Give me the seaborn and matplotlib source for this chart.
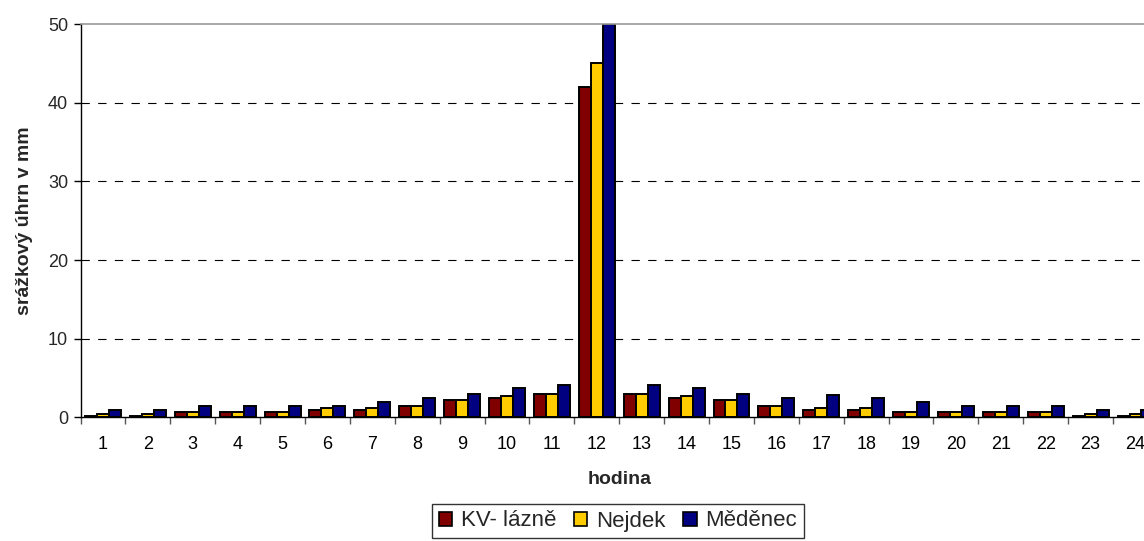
import matplotlib
matplotlib.use("Agg")
import matplotlib.pyplot as plt
import seaborn as sns
import pandas as pd
import numpy as np
from matplotlib.ticker import FixedLocator, NullFormatter
from matplotlib.patches import Patch

hours = [str(h) for h in range(1, 25)]
kv_lazne = [0.2, 0.2, 0.75, 0.75, 0.75, 1.0, 1.0, 1.5, 2.25, 2.5, 3.0, 42.0,
            3.0, 2.5, 2.25, 1.5, 1.0, 1.0, 0.75, 0.75, 0.75, 0.75, 0.2, 0.2]
nejdek = [0.5, 0.5, 0.75, 0.75, 0.75, 1.2, 1.2, 1.5, 2.25, 2.75, 3.0, 45.0,
          3.0, 2.75, 2.25, 1.5, 1.2, 1.2, 0.75, 0.75, 0.75, 0.75, 0.5, 0.5]
medenec = [1.0, 1.0, 1.5, 1.5, 1.5, 1.5, 2.0, 2.5, 3.0, 3.7, 4.15, 50.0,
           4.15, 3.7, 3.0, 2.5, 2.9, 2.5, 2.0, 1.5, 1.5, 1.5, 1.0, 1.0]
series_names = ["KV- lázně", "Nejdek", "Měděnec"]
colors = ["#800000", "#FFCC00", "#000080"]

df = pd.DataFrame({
    "hodina": hours * 3,
    "value": kv_lazne + nejdek + medenec,
    "stanice": [series_names[0]] * 24 + [series_names[1]] * 24 + [series_names[2]] * 24,
})

sns.set_style("white")
plt.rcParams['font.family'] = ['Liberation Sans', 'DejaVu Sans']
plt.rcParams['lines.scale_dashes'] = False

fig = plt.figure(figsize=(11.44, 5.41), dpi=100)
ax = fig.add_axes([0.0704, 0.2283, 1.0122 - 0.0704, 0.9556 - 0.2283])

sns.barplot(data=df, x="hodina", y="value", hue="stanice", order=hours,
            hue_order=series_names, palette=colors, edgecolor="black",
            linewidth=1.4, width=0.8, gap=0, ax=ax, legend=False, errorbar=None,
            saturation=1)

ax.set_xlim(-0.5, 23.5)
ax.set_ylim(0, 50)
ax.set_yticks([0, 10, 20, 30, 40, 50])
for y in [10, 20, 30, 40]:
    ax.axhline(y, color="black", linewidth=0.8, dashes=(6, 6), zorder=0)

ax.spines["right"].set_visible(False)
ax.spines["top"].set_color("#999999")
ax.spines["top"].set_linewidth(1.2)
ax.spines["left"].set_color("black")
ax.spines["bottom"].set_color("black")
ax.spines["left"].set_linewidth(1.0)
ax.spines["bottom"].set_linewidth(1.0)

ax.tick_params(axis="x", which="major", length=0, labelsize=13, pad=13, colors="black")
ax.xaxis.set_minor_locator(FixedLocator(np.arange(-0.5, 24.5, 1.0)))
ax.xaxis.set_minor_formatter(NullFormatter())
ax.tick_params(axis="x", which="minor", length=5, width=1, color="#555555", direction="out", bottom=True)
ax.tick_params(axis="y", which="major", length=5, width=1, color="black", direction="out",
               labelsize=13, left=True, pad=4)

ax.set_xlabel("hodina", fontsize=14, fontweight="bold", labelpad=13)
ax.set_ylabel("srážkový úhrn v mm", fontsize=14, fontweight="bold", labelpad=11)

handles = [Patch(facecolor=c, edgecolor="black", linewidth=1.2) for c in colors]
leg = fig.legend(handles, series_names, loc="center", bbox_to_anchor=(618 / 1144, 1 - 521 / 541),
                 ncol=3, frameon=True, fontsize=16, handlelength=0.6, handleheight=0.6,
                 handletextpad=0.4, columnspacing=0.8, borderpad=0.3, borderaxespad=0,
                 fancybox=False)
leg.get_frame().set_edgecolor("black")
leg.get_frame().set_linewidth(1.0)

fig.savefig("out.png", dpi=100)
